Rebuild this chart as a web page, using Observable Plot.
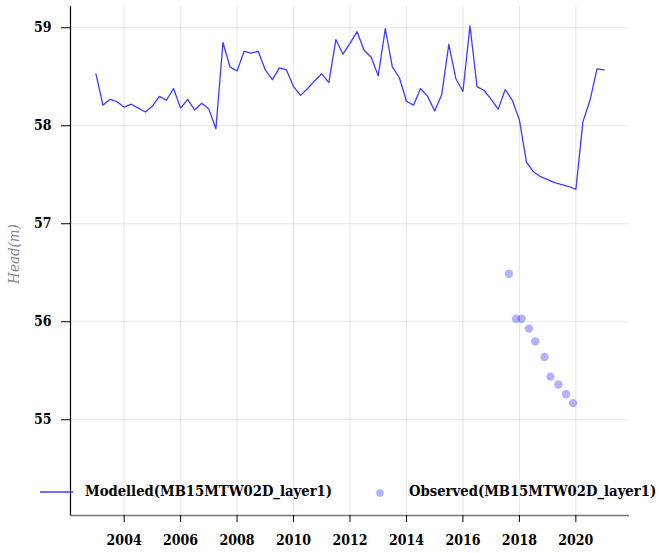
<!DOCTYPE html>
<html><head><meta charset="utf-8">
<script src="https://cdn.jsdelivr.net/npm/d3@7"></script>
<script src="https://cdn.jsdelivr.net/npm/@observablehq/plot@0.6"></script>
<style>
body{margin:0;background:#fff;}
#wrap{position:relative;width:659px;height:553px;}
.lg{position:absolute;font-family:"DejaVu Serif Condensed","DejaVu Serif",serif;font-stretch:condensed;font-weight:bold;font-size:14.7px;color:#000;line-height:1;white-space:nowrap;}
.sw{position:absolute;}
</style></head><body><div id="wrap"></div>
<script>
const modelledDates = [2003.00,2003.25,2003.50,2003.75,2004.00,2004.25,2004.50,2004.75,2005.00,2005.25,2005.50,2005.75,2006.00,2006.25,2006.50,2006.75,2007.00,2007.25,2007.50,2007.75,2008.00,2008.25,2008.50,2008.75,2009.00,2009.25,2009.50,2009.75,2010.00,2010.25,2010.50,2010.75,2011.00,2011.25,2011.50,2011.75,2012.00,2012.25,2012.50,2012.75,2013.00,2013.25,2013.50,2013.75,2014.00,2014.25,2014.50,2014.75,2015.00,2015.25,2015.50,2015.75,2016.00,2016.25,2016.50,2016.75,2017.00,2017.25,2017.50,2017.75,2018.00,2018.25,2018.50,2018.75,2019.00,2019.25,2019.50,2019.75,2020.00,2020.25,2020.50,2020.75,2021.00];
const modelledHead = [58.53,58.21,58.27,58.245,58.19,58.22,58.18,58.14,58.20,58.30,58.26,58.38,58.18,58.27,58.16,58.23,58.17,57.97,58.85,58.60,58.56,58.76,58.74,58.76,58.57,58.47,58.59,58.57,58.40,58.31,58.38,58.46,58.53,58.44,58.88,58.73,58.84,58.96,58.77,58.70,58.51,58.99,58.60,58.49,58.25,58.21,58.38,58.30,58.15,58.32,58.83,58.48,58.35,59.02,58.40,58.36,58.27,58.17,58.37,58.26,58.06,57.63,57.53,57.48,57.45,57.42,57.40,57.38,57.35,58.04,58.26,58.58,58.57];
const observedDates = [2017.63,2017.88,2018.08,2018.34,2018.56,2018.89,2019.10,2019.38,2019.65,2019.90];
const observedHead = [56.49,56.03,56.03,55.93,55.80,55.64,55.44,55.36,55.26,55.17];
const xTicks = [2004,2006,2008,2010,2012,2014,2016,2018,2020];
const yTicks = [55,56,57,58,59];
const xDomain = [2002.1,2021.9];
const yDomain = [54.023,59.217];
const seriesNames = ["Modelled(MB15MTW02D_layer1)","Observed(MB15MTW02D_layer1)"];
const yLabel = "Head(m)";

const modelled = modelledDates.map((d,i)=>({date:d, head:modelledHead[i]}));
const observed = observedDates.map((d,i)=>({date:d, head:observedHead[i]}));
const FONT = '"DejaVu Serif Condensed","DejaVu Serif",serif';

const plot = Plot.plot({
  width:659, height:553, marginLeft:70, marginRight:30, marginTop:6, marginBottom:38,
  style:{fontFamily:FONT, fontStretch:"condensed", fontSize:"14px", fontWeight:"bold", color:"#000", background:"#fff", overflow:"visible"},
  x:{domain:xDomain}, y:{domain:yDomain},
  marks:[
    Plot.gridX(xTicks,{stroke:"#000",strokeOpacity:0.1}),
    Plot.gridY(yTicks,{stroke:"#000",strokeOpacity:0.1}),
    Plot.ruleY([yDomain[0]],{stroke:"#777",strokeWidth:1.5}),
    Plot.ruleX([xDomain[0]],{stroke:"#000",strokeWidth:1.2}),
    Plot.axisX(xTicks,{tickSize:7,tickPadding:13,tickFormat:d=>String(d),label:null,stroke:"#000"}),
    Plot.axisY(yTicks,{tickSize:9,tickPadding:10,tickFormat:d=>String(d),label:null,stroke:"#000"}),
    Plot.line(modelled,{x:"date",y:"head",stroke:"#3c3cff",strokeWidth:1.3}),
    Plot.dot(observed,{x:"date",y:"head",r:4.2,fill:"#0000ff",fillOpacity:0.3,stroke:null}),
    Plot.text([yLabel],{frameAnchor:"left",textAnchor:"middle",rotate:-90,dx:-56,dy:-7,fill:"#888",fontStyle:"italic",fontWeight:"normal",fontSize:15})
  ]
});
const wrap = document.getElementById("wrap");
wrap.appendChild(plot);

// legend overlay
const NS="http://www.w3.org/2000/svg";
function swatch(left, top, kind){
  const s=document.createElementNS(NS,"svg");
  s.setAttribute("class","sw");
  s.setAttribute("width",34); s.setAttribute("height",10);
  s.style.left=left+"px"; s.style.top=top+"px"; s.style.position="absolute";
  if(kind==="line"){
    const l=document.createElementNS(NS,"line");
    l.setAttribute("x1",0);l.setAttribute("x2",33);l.setAttribute("y1",5);l.setAttribute("y2",5);
    l.setAttribute("stroke","#3c3cff");l.setAttribute("stroke-width",1.3);
    s.appendChild(l);
  } else {
    const c=document.createElementNS(NS,"circle");
    c.setAttribute("cx",17);c.setAttribute("cy",5);c.setAttribute("r",3.8);
    c.setAttribute("fill","#0000ff");c.setAttribute("fill-opacity",0.3);
    s.appendChild(c);
  }
  wrap.appendChild(s);
}
function label(left, top, text){
  const d=document.createElement("div");
  d.className="lg"; d.textContent=text;
  d.style.left=left+"px"; d.style.top=top+"px";
  wrap.appendChild(d);
}
swatch(40,487,"line");
label(85,484,seriesNames[0]);
swatch(363,488,"dot");
label(409,484,seriesNames[1]);
</script></body></html>
